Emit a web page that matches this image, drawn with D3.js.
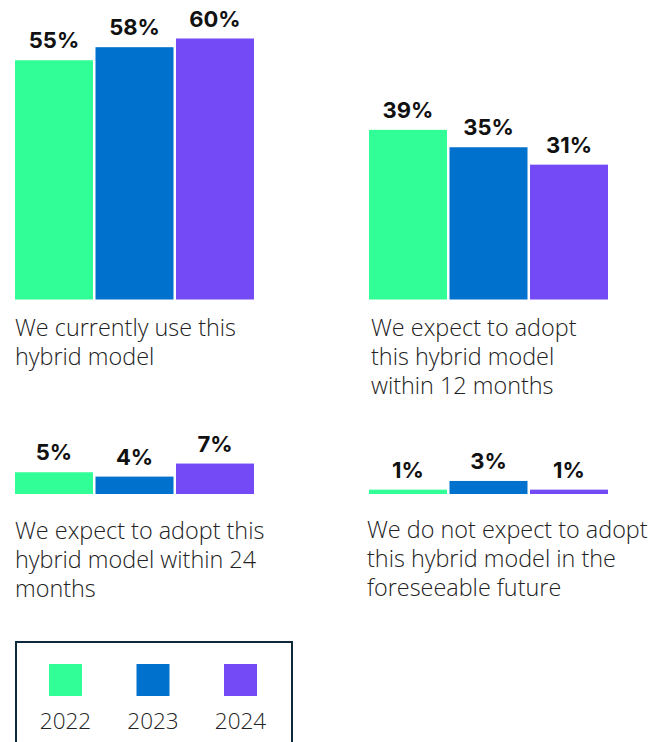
<!DOCTYPE html>
<html>
<head>
<meta charset="utf-8">
<script src="https://cdn.jsdelivr.net/npm/d3@7"></script>
<style>
  html, body { margin: 0; padding: 0; background: #fff; }
  svg { display: block; }
</style>
</head>
<body>
<svg id="chart" width="666" height="742"></svg>
<script>
// ---- data ----
const years = ["2022", "2023", "2024"];
const colors = ["#31FE96", "#0072CE", "#734AF6"];
const categories = [
  ["We currently use this", "hybrid model"],
  ["We expect to adopt", "this hybrid model", "within 12 months"],
  ["We expect to adopt this", "hybrid model within 24", "months"],
  ["We do not expect to adopt", "this hybrid model in the", "foreseeable future"]
];
const values2022 = [55, 39, 5, 1];
const values2023 = [58, 35, 4, 3];
const values2024 = [60, 31, 7, 1];

// ---- layout ----
const svg = d3.select("#chart");
const series = [values2022, values2023, values2024];
const panels = [
  { x: 15, base: 299.5, textX: 15, textY: 336 },
  { x: 369, base: 299.5, textX: 371, textY: 336 },
  { x: 15, base: 494, textX: 15, textY: 539 },
  { x: 369, base: 494, textX: 367, textY: 538 }
];
const textFont = "'Open Sans', Roboto, 'Noto Sans', sans-serif";

const x = d3.scaleBand().domain(years).range([0, 239]).paddingInner(0.031).paddingOuter(0);
const h = d3.scaleLinear().domain([0, 60]).range([0, 261]);

categories.forEach((lines, i) => {
  const p = panels[i];
  const g = svg.append("g").attr("transform", `translate(${p.x},0)`);
  const data = years.map((yr, j) => ({ yr, v: series[j][i], c: colors[j] }));
  g.selectAll("rect").data(data).join("rect")
    .attr("x", d => x(d.yr))
    .attr("width", x.bandwidth())
    .attr("y", d => p.base - h(d.v))
    .attr("height", d => h(d.v))
    .attr("fill", d => d.c);
  g.selectAll("text.val").data(data).join("text")
    .attr("class", "val")
    .attr("x", d => x(d.yr) + x.bandwidth() / 2)
    .attr("y", d => p.base - h(d.v) - 12)
    .attr("text-anchor", "middle")
    .attr("font-family", "Inter, 'Liberation Sans', sans-serif")
    .attr("font-weight", 700)
    .attr("font-size", 22)
    .attr("fill", "#111")
    .text(d => d.v + "%");
  const t = svg.append("text")
    .attr("x", p.textX)
    .attr("y", p.textY)
    .attr("font-family", textFont)
    .attr("font-weight", 300)
    .attr("font-size", 23.4)
    .attr("fill", "#222");
  t.selectAll("tspan").data(lines).join("tspan")
    .attr("x", p.textX)
    .attr("dy", (d, k) => k === 0 ? 0 : 29)
    .text(d => d);
});

// ---- legend ----
const lg = svg.append("g");
lg.append("rect")
  .attr("x", 16).attr("y", 642).attr("width", 276).attr("height", 120)
  .attr("fill", "none").attr("stroke", "#0E2A3A").attr("stroke-width", 2);
const lx = d3.scalePoint().domain(years).range([65.5, 240.5]);
lg.selectAll("rect.sw").data(years).join("rect")
  .attr("class", "sw")
  .attr("x", d => lx(d) - 16.5).attr("y", 664)
  .attr("width", 33).attr("height", 32)
  .attr("fill", (d, i) => colors[i]);
lg.selectAll("text").data(years).join("text")
  .attr("x", d => lx(d)).attr("y", 729)
  .attr("text-anchor", "middle")
  .attr("font-family", textFont)
  .attr("font-weight", 300)
  .attr("font-size", 22.5)
  .attr("fill", "#222")
  .text(d => d);
</script>
</body>
</html>
